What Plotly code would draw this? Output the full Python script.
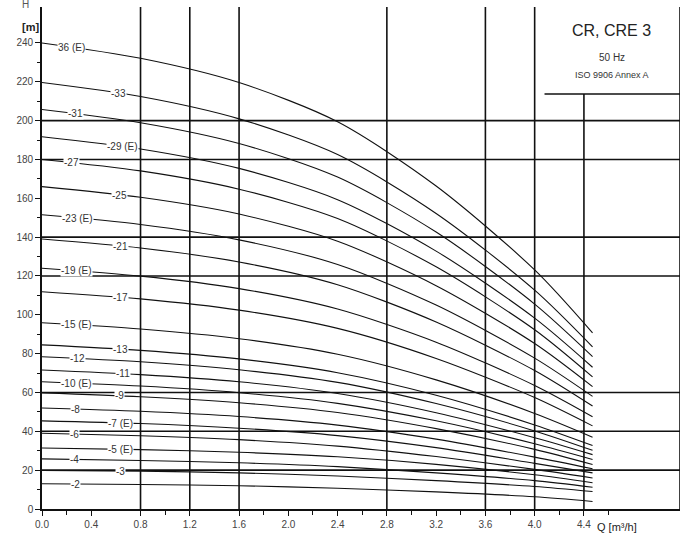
import numpy as np
import plotly.graph_objects as go

# Flow points (m3/h) where heads were read
Q = [0.0, 0.8, 1.6, 2.4, 3.2, 4.0, 4.47]

# Heads (m) per pump variant
stages = ["-2", "-3", "-4", "-5 (E)", "-6", "-7 (E)", "-8", "-9", "-10 (E)", "-11",
          "-12", "-13", "-15 (E)", "-17", "-19 (E)", "-21", "-23 (E)", "-25", "-27",
          "-29 (E)", "-31", "-33", "36 (E)"]
H_2 = [13.0, 12.6, 12.0, 10.7, 8.8, 6.3, 3.9]
H_3 = [19.8, 19.5, 18.6, 17.0, 14.6, 11.6, 9.0]
H_4 = [25.8, 25.0, 23.8, 21.8, 18.6, 14.6, 11.2]
H_5 = [31.4, 30.6, 29.2, 26.9, 23.0, 17.6, 13.5]
H_6 = [39.0, 37.7, 35.7, 32.4, 27.0, 20.4, 16.0]
H_7 = [45.4, 44.0, 41.6, 37.8, 31.6, 23.5, 18.6]
H_8 = [52.0, 50.3, 47.6, 43.2, 36.0, 26.7, 20.7]
H_9 = [59.8, 57.8, 54.7, 49.7, 41.4, 30.7, 22.9]
H_10 = [65.5, 63.3, 59.9, 54.4, 45.4, 33.6, 25.5]
H_11 = [71.6, 69.2, 65.5, 59.5, 49.6, 36.7, 28.0]
H_12 = [78.4, 75.8, 71.7, 65.2, 54.3, 40.2, 30.2]
H_13 = [84.5, 81.7, 77.3, 70.2, 58.6, 43.3, 32.7]
H_15 = [95.9, 92.7, 87.7, 79.7, 66.5, 49.2, 37.0]
H_17 = [111.9, 108.2, 102.4, 93.0, 77.5, 57.4, 42.8]
H_19 = [124.0, 119.9, 113.5, 103.0, 85.9, 63.6, 47.5]
H_21 = [139.0, 134.4, 127.2, 115.5, 96.3, 71.3, 53.0]
H_23 = [151.5, 146.5, 138.6, 125.9, 105.0, 77.7, 58.0]
H_25 = [166.0, 160.5, 151.9, 137.9, 115.0, 85.2, 63.0]
H_27 = [180.0, 174.1, 164.7, 149.6, 124.7, 92.3, 68.0]
H_29 = [191.7, 185.4, 175.4, 159.3, 132.8, 98.3, 73.0]
H_31 = [205.7, 198.9, 188.2, 170.9, 142.6, 105.5, 78.5]
H_33 = [219.6, 212.4, 200.9, 182.5, 152.2, 112.7, 83.5]
H_36 = [240.0, 232.1, 219.6, 199.4, 166.3, 123.1, 90.7]
heads = [H_2, H_3, H_4, H_5, H_6, H_7, H_8, H_9, H_10, H_11, H_12, H_13, H_15,
         H_17, H_19, H_21, H_23, H_25, H_27, H_29, H_31, H_33, H_36]
# Flow at which each curve label sits
label_q = [0.27, 0.64, 0.26, 0.64, 0.26, 0.64, 0.27, 0.63, 0.28, 0.66,
           0.29, 0.64, 0.28, 0.64, 0.28, 0.64, 0.29, 0.63, 0.24,
           0.65, 0.27, 0.62, 0.24]

x_ticks = [0.0, 0.4, 0.8, 1.2, 1.6, 2.0, 2.4, 2.8, 3.2, 3.6, 4.0, 4.4]
y_ticks = [0, 20, 40, 60, 80, 100, 120, 140, 160, 180, 200, 220, 240]
v_grid = [0.8, 1.2, 1.6, 2.8, 3.6, 4.0]
h_grid = [20, 40, 60, 120, 140, 180, 200]

XMAX = 5.18
YMAX = 258.5
BOX_Q = 4.08
BOX_H = 213.7

FONT = "Liberation Sans, Arial"

fig = go.Figure()
for name, h in zip(stages, heads):
    fig.add_trace(go.Scatter(x=Q, y=h, mode="lines", name=name,
                             line=dict(color="#111", width=1.1, shape="spline", smoothing=0.8),
                             showlegend=False, hoverinfo="skip"))

shapes = []
for q in v_grid:
    shapes.append(dict(type="line", xref="x", yref="y", x0=q, x1=q, y0=0, y1=YMAX,
                       line=dict(color="#111", width=1.6), layer="below"))
shapes.append(dict(type="line", xref="x", yref="y", x0=4.4, x1=4.4, y0=0, y1=BOX_H,
                   line=dict(color="#111", width=1.6), layer="below"))
shapes.append(dict(type="line", xref="x", yref="y", x0=XMAX, x1=XMAX, y0=0, y1=YMAX,
                   line=dict(color="#111", width=1.6), layer="below"))
for hh in h_grid:
    shapes.append(dict(type="line", xref="x", yref="y", x0=0, x1=XMAX, y0=hh, y1=hh,
                       line=dict(color="#111", width=1.6), layer="below"))
shapes.append(dict(type="line", xref="x", yref="y", x0=BOX_Q, x1=XMAX, y0=BOX_H, y1=BOX_H,
                   line=dict(color="#111", width=1.6), layer="below"))

annotations = []
for name, h, q in zip(stages, heads, label_q):
    yv = float(np.interp(q, Q, h))
    annotations.append(dict(x=q, y=yv, xref="x", yref="y", text=name, showarrow=False,
                            font=dict(family=FONT, size=10, color="#333"),
                            bgcolor="white", borderpad=0))

annotations += [
    dict(x=0.893, y=0.954, xref="paper", yref="paper", text="CR, CRE 3", showarrow=False,
         font=dict(family=FONT, size=16, color="#222"), xanchor="center", yanchor="middle"),
    dict(x=0.893, y=0.900, xref="paper", yref="paper", text="50 Hz", showarrow=False,
         font=dict(family=FONT, size=10, color="#333"), xanchor="center", yanchor="middle"),
    dict(x=0.893, y=0.865, xref="paper", yref="paper", text="ISO 9906 Annex A", showarrow=False,
         font=dict(family=FONT, size=9, color="#333"), xanchor="center", yanchor="middle"),
    dict(x=-0.035, y=1.004, xref="paper", yref="paper", text="H", showarrow=False,
         font=dict(family=FONT, size=10, color="#555"), yanchor="middle"),
    dict(x=-0.035, y=0.960, xref="paper", yref="paper", text="<b>[m]</b>", showarrow=False,
         font=dict(family=FONT, size=11, color="#222"), yanchor="middle"),
    dict(x=0.935, y=-0.036, xref="paper", yref="paper", text="Q [m³/h]", showarrow=False,
         font=dict(family=FONT, size=11, color="#222"), yanchor="middle"),
]

fig.update_layout(
    width=683, height=543,
    margin=dict(l=42, r=3, t=7, b=34),
    plot_bgcolor="white", paper_bgcolor="white",
    shapes=shapes, annotations=annotations,
    xaxis=dict(range=[0, XMAX], tickvals=x_ticks, ticktext=[f"{v:.1f}" for v in x_ticks],
               showgrid=False, zeroline=False, showline=True, linecolor="#111", linewidth=1.6,
               ticks="outside", ticklen=5, tickcolor="#111", tickwidth=1.3,
               minor=dict(tickvals=[0.2, 1.0, 1.8, 2.2, 2.6, 3.0, 3.4, 3.8, 4.2, 4.6],
                          ticks="outside", ticklen=4, tickcolor="#111"),
               tickfont=dict(family=FONT, size=10, color="#444")),
    yaxis=dict(range=[0, YMAX], tickvals=y_ticks, showgrid=False, zeroline=False,
               showline=True, linecolor="#111", linewidth=1.6,
               ticks="outside", ticklen=5, tickcolor="#111", tickwidth=1.3,
               minor=dict(tickvals=[10, 30, 50, 70, 90, 110, 130, 150, 170, 190, 210, 230],
                          ticks="outside", ticklen=3, tickcolor="#111"),
               tickfont=dict(family=FONT, size=10, color="#444")),
)

fig.write_html("out.html", config={"displayModeBar": False},
               post_script="document.body.style.margin='0';document.body.style.overflow='hidden';")
